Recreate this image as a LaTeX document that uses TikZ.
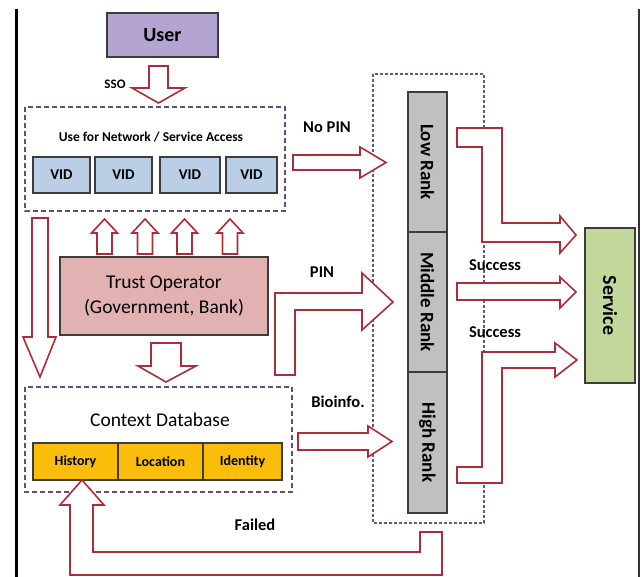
\documentclass[tikz,border=0pt]{standalone}
\usepackage{fontspec}
\setmainfont{Carlito}
\usepackage{tikz}
\usetikzlibrary{calc}

\definecolor{userpurple}{RGB}{180,164,210}
\definecolor{vidblue}{RGB}{186,206,230}
\definecolor{trustpink}{RGB}{226,178,178}
\definecolor{dbyellow}{RGB}{250,190,10}
\definecolor{rankgray}{RGB}{192,192,192}
\definecolor{servgreen}{RGB}{196,215,155}
\definecolor{boxgray}{RGB}{60,60,60}
\definecolor{arrowred}{RGB}{172,46,56}
\definecolor{dashpurple}{RGB}{95,78,130}
\definecolor{dotblue}{RGB}{92,92,140}

\begin{document}
\begin{tikzpicture}[x=1pt,y=-1pt,
	box/.style={draw=boxgray, line width=1.2pt, inner sep=0pt},
	barrow/.style={draw=arrowred, fill=white, line width=1.6pt, line join=miter},
	lbl/.style={font=\fontsize{16.5}{18}\selectfont\bfseries},
	ranklbl/.style={rotate=-90, font=\fontsize{19}{21}\selectfont\bfseries}]

	\useasboundingbox (0,0) rectangle (643,577);

	% frame lines of the screenshot
	\draw[black, line width=3pt] (16,9) -- (16,577);
	\draw[black!80, line width=2pt] (639,9) -- (639,577);

	% dashed groups
	\draw[dashpurple, line width=1.5pt, dash pattern=on 5pt off 3pt] (25,107) rectangle (285,211);
	\draw[dashpurple, line width=1.5pt, dash pattern=on 5pt off 3pt] (25,387) rectangle (292,492);
	\draw[dotblue, line width=1.2pt, dash pattern=on 3pt off 2pt] (373,74) rectangle (484,523);

	% boxes
	\node[box, fill=userpurple, minimum width=111, minimum height=44,
		font=\fontsize{20}{22}\selectfont\bfseries] (user) at (162.5,35) {User};
	\node[font=\fontsize{13}{15}\selectfont\bfseries] (sso) at (115,84) {SSO};
	\node[font=\fontsize{13.5}{15}\selectfont\bfseries] (netlbl) at (151,137) {Use for Network / Service Access};
	\foreach \cx/\w [count=\i] in {61.5/57, 123.5/57, 190/60, 251.5/51}
		\node[box, fill=vidblue, minimum width=\w, minimum height=36,
			font=\fontsize{15}{17}\selectfont\bfseries] (vid\i) at (\cx,175) {VID};

	\node[box, fill=trustpink, minimum width=208, minimum height=78, align=center,
		font=\fontsize{19.5}{25}\selectfont] (trust) at (164,296) {Trust Operator\\(Government, Bank)};

	\node[font=\fontsize{19.5}{21}\selectfont] (ctxlbl) at (160,420) {Context Database};
	\node[box, fill=dbyellow, minimum width=85, minimum height=37,
		font=\fontsize{14}{16}\selectfont\bfseries] (hist) at (75.5,461.5) {History};
	\node[box, fill=dbyellow, minimum width=85, minimum height=37,
		font=\fontsize{14}{16}\selectfont\bfseries] (loc) at (160.5,461.5) {Location};
	\node[box, fill=dbyellow, minimum width=79, minimum height=37,
		font=\fontsize{14}{16}\selectfont\bfseries] (ident) at (242.5,461.5) {Identity};

	\node[box, fill=rankgray, minimum width=39, minimum height=140] (low) at (427.5,162) {};
	\node[box, fill=rankgray, minimum width=39, minimum height=140] (mid) at (427.5,302) {};
	\node[box, fill=rankgray, minimum width=39, minimum height=141] (high) at (427.5,442.5) {};
	\node[ranklbl] at (low) {Low Rank};
	\node[ranklbl] at (mid) {Middle Rank};
	\node[ranklbl] at (high) {High Rank};

	\node[box, fill=servgreen, minimum width=50, minimum height=155] (service) at (610,305.5) {};
	\node[ranklbl, font=\fontsize{20}{22}\selectfont\bfseries] at (service) {Service};

	% block arrows
	\draw[barrow] (149,66) -- (168,66) -- (168,88) -- (185,88) -- (158.5,103) -- (132,88) -- (149,88) -- cycle;
	\foreach \cx in {104.5,145,184.5,230}
		\draw[barrow] (\cx-7.5,254) -- (\cx-7.5,233) -- (\cx-13,233) -- (\cx,219) -- (\cx+13,233) -- (\cx+7.5,233) -- (\cx+7.5,254) -- cycle;
	\draw[barrow] (32,218) -- (48,218) -- (48,337) -- (56,337) -- (40,377) -- (23,337) -- (32,337) -- cycle;
	\draw[barrow] (151,343) -- (181,343) -- (181,366) -- (196,366) -- (166,382) -- (138,366) -- (151,366) -- cycle;

	% No PIN / PIN / Bioinfo.
	\draw[barrow] (293,155) -- (360,155) -- (360,147) -- (386,162.5) -- (360,178) -- (360,170) -- (293,170) -- cycle;
	\draw[barrow] (275,375) -- (275,293) -- (362,293) -- (362,273) -- (393,302) -- (362,330) -- (362,310) -- (295,310) -- (295,375) -- cycle;
	\draw[barrow] (298,433) -- (368,433) -- (368,426) -- (392,441.5) -- (368,457) -- (368,450) -- (298,450) -- cycle;
	\node[lbl] (nopin) at (327,127) {No PIN};
	\node[lbl] (pin) at (322,272) {PIN};
	\node[lbl] (bio) at (338,402) {Bioinfo.};

	% ranks to service
	\draw[barrow] (457,128) -- (502,128) -- (502,223) -- (560,223) -- (560,216) -- (576,235) -- (560,253) -- (560,242) -- (482,242) -- (482,147) -- (457,147) -- cycle;
	\draw[barrow] (457,283) -- (560,283) -- (560,277) -- (576,292) -- (560,308) -- (560,300) -- (457,300) -- cycle;
	\draw[barrow] (457,467) -- (482,467) -- (482,352) -- (555,352) -- (555,343) -- (577,360) -- (555,377) -- (555,368) -- (502,368) -- (502,483) -- (457,483) -- cycle;
	\node[lbl] (succ1) at (495,265) {Success};
	\node[lbl] (succ2) at (495,332) {Success};

	% failed back to history
	\draw[barrow] (82,480) -- (104,505) -- (93,505) -- (93,552) -- (420,552) -- (420,532) -- (442,532) -- (442,575) -- (70,575) -- (70,505) -- (60,505) -- cycle;
	\node[lbl] (failed) at (255,525) {Failed};

\end{tikzpicture}
\end{document}
